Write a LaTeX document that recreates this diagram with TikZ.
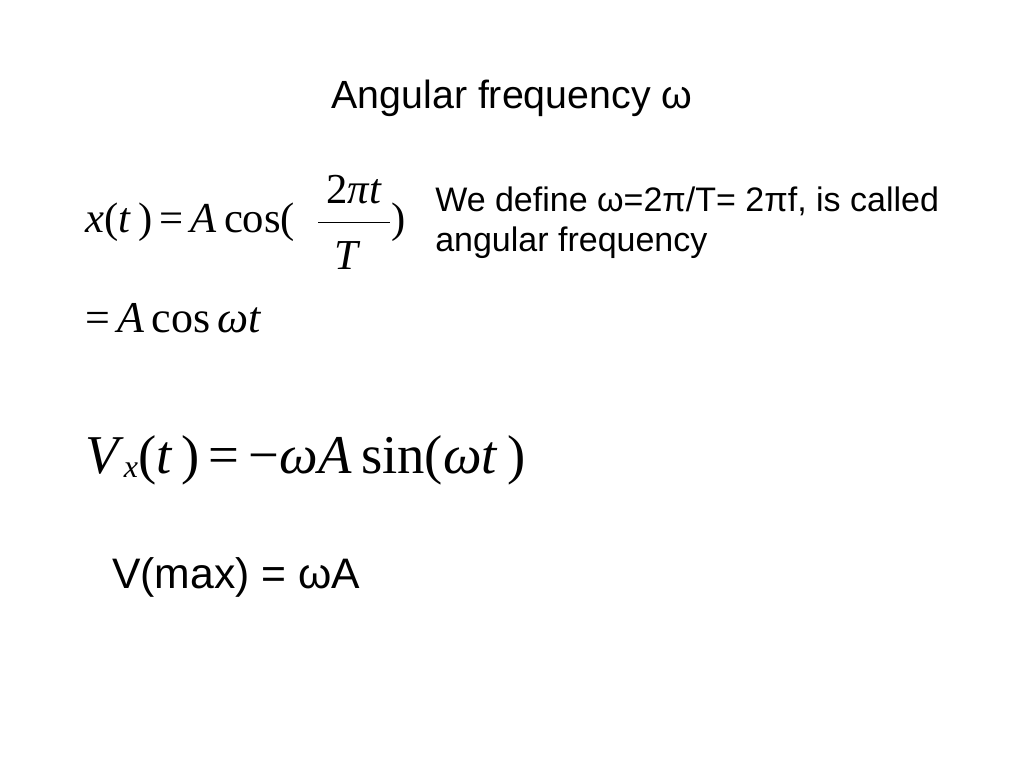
\documentclass[tikz,border=0pt]{standalone}
\usepackage{fontspec}
\setmainfont{Liberation Serif}
\newfontfamily\sans{Liberation Sans}
\begin{document}
\begin{tikzpicture}[x=0.75pt,y=-0.75pt,
  sanstxt/.style={font=\sans\fontsize{25.5}{30}\selectfont,inner sep=0pt},
  eq/.style={font=\fontsize{32}{36}\selectfont,inner sep=0pt}]
\useasboundingbox[fill=white] (0,0) rectangle (1024,768);
\node[sanstxt,font=\sans\fontsize{29.5}{34}\selectfont] (title) at (512,98) {Angular frequency ω};
% equation 1
\node[eq,anchor=west] (eq1) at (85,222) {\textit{x}(\textit{t}\,)\,=\,\textit{A}\,cos(};
\node[eq] (num) at (354,190) {2\textit{πt}};
\draw (318,222) -- (390,222);
\node[eq] (den) at (348,256) {\textit{T}};
\node[eq,anchor=west] (cl) at (391,222) {)};
\node[sanstxt,anchor=west,align=left,font=\sans\fontsize{25.5}{30}\selectfont] (def) at (435,223) {We define ω=2π/T= 2πf, is called\\angular frequency};
% line 2
\node[eq,anchor=west,font=\fontsize{33}{36}\selectfont] (eq2) at (85,318) {=\,\textit{A}\,cos\,\textit{ωt}};
% Vx
\node[eq,anchor=west,font=\fontsize{41}{46}\selectfont] (eq3) at (85,460) {\textit{V}\raisebox{-3pt}{\fontsize{24}{24}\selectfont\textit{x}}(\textit{t}\,)\,=\,−\textit{ωA}\,sin(\textit{ωt}\,)};
\node[sanstxt,anchor=west,font=\sans\fontsize{32}{36}\selectfont] (vmax) at (112,577) {V(max) = ωA};
\end{tikzpicture}
\end{document}
